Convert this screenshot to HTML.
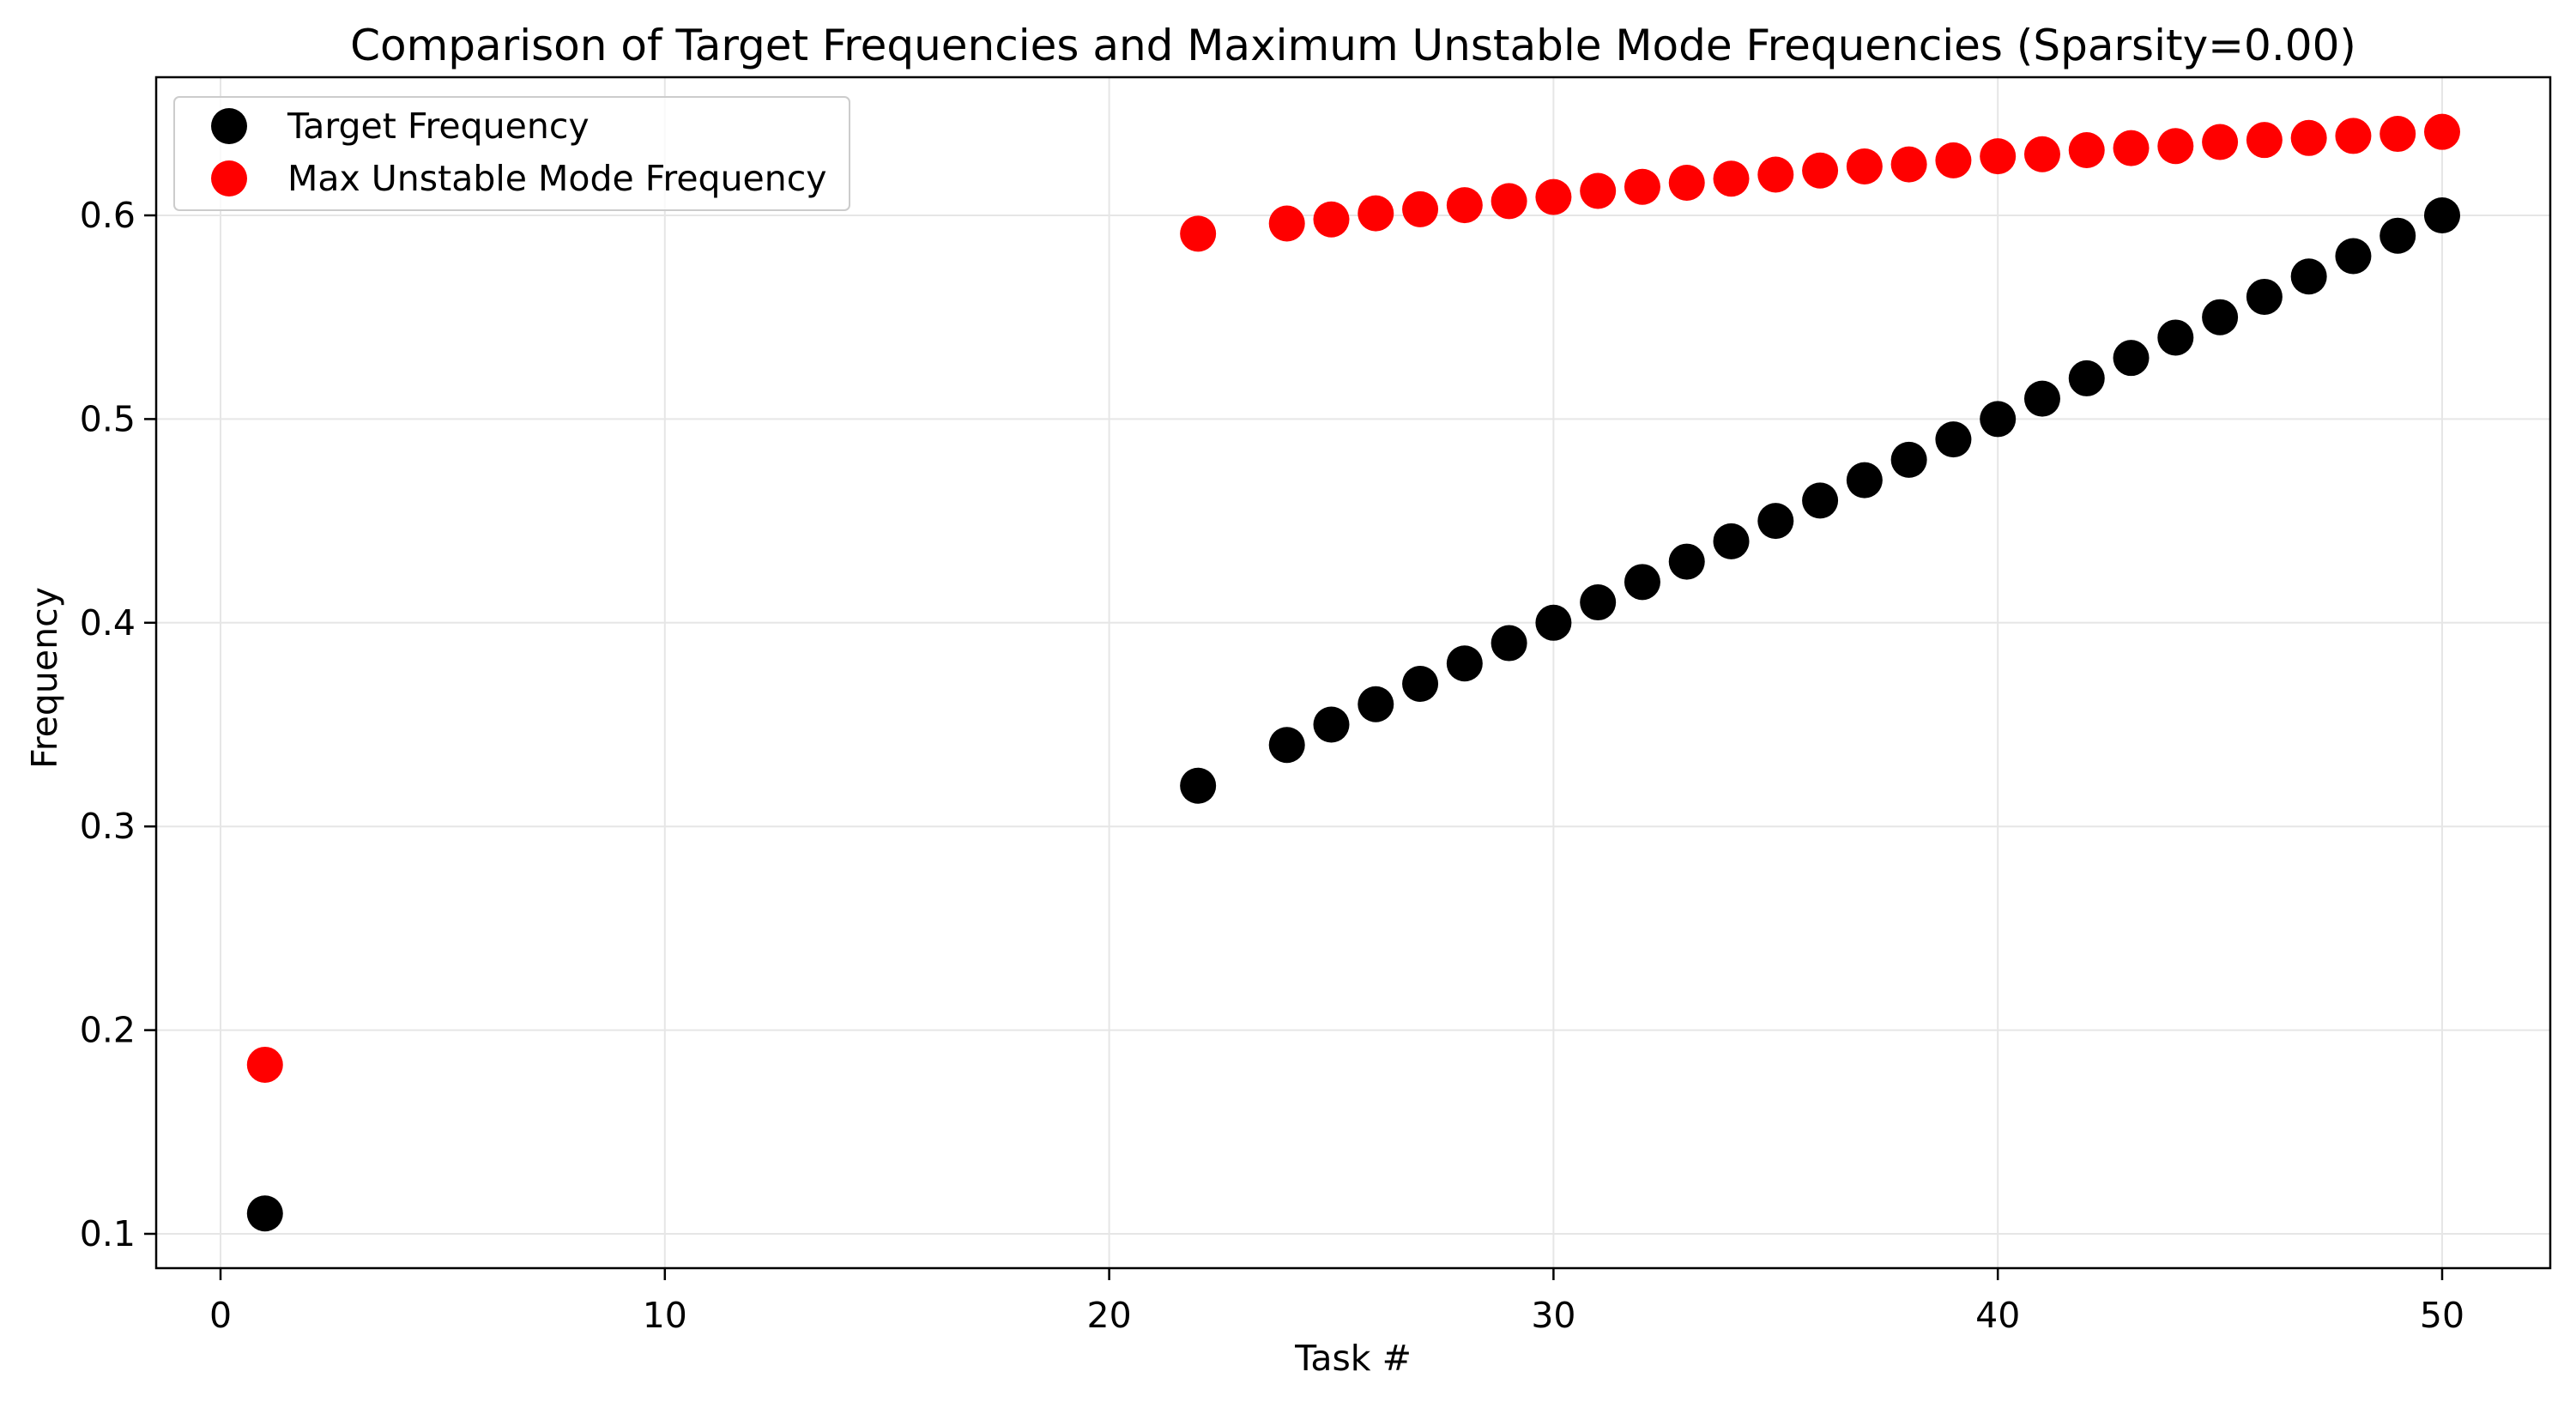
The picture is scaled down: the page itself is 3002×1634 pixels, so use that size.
<!DOCTYPE html>
<html><head><meta charset="utf-8"><style>
body{margin:0;background:#fff}
svg{display:block;font-family:"DejaVu Sans","Liberation Sans",sans-serif}
</style></head><body>
<svg id="chart" width="3002" height="1634" viewBox="0 0 3002 1634">
<rect width="3002" height="1634" fill="#fff"/>
<text x="1577" y="70" font-size="50" text-anchor="middle">Comparison of Target Frequencies and Maximum Unstable Mode Frequencies (Sparsity=0.00)</text>
<g id="grid"></g>
<g id="ticks"></g>
<g id="marks"></g>
<rect x="182" y="90" width="2790" height="1388" fill="none" stroke="#000" stroke-width="2.5"/>
<text x="1577" y="1597" font-size="41" text-anchor="middle">Task #</text>
<text x="66" y="790" font-size="41" text-anchor="middle" transform="rotate(-90 66 790)">Frequency</text>
<g>
<rect x="203" y="113" width="787" height="132" rx="6" fill="#fff" fill-opacity="0.8" stroke="#ccc" stroke-width="2"/>
<g>
<circle cx="267" cy="147" r="21" fill="#000"/>
<text x="335" y="161" font-size="41">Target Frequency</text></g>
<g>
<circle cx="267" cy="208" r="21" fill="#f00"/>
<text x="335" y="222" font-size="41">Max Unstable Mode Frequency</text></g>
</g>
</svg>
<script>
const tasks=[1,22,24,25,26,27,28,29,30,31,32,33,34,35,36,37,38,39,40,41,42,43,44,45,46,47,48,49,50];
const targetFreq=[0.11,0.32,0.34,0.35,0.36,0.37,0.38,0.39,0.40,0.41,0.42,0.43,0.44,0.45,0.46,0.47,0.48,0.49,0.50,0.51,0.52,0.53,0.54,0.55,0.56,0.57,0.58,0.59,0.60];
const maxUnstableFreq=[0.183,0.591,0.596,0.598,0.601,0.603,0.605,0.607,0.609,0.612,0.614,0.616,0.618,0.620,0.622,0.624,0.625,0.627,0.629,0.630,0.632,0.633,0.634,0.636,0.637,0.638,0.639,0.640,0.641];
const xTicks=[0,10,20,30,40,50];
const yTicks=[0.1,0.2,0.3,0.4,0.5,0.6];
const NS="http://www.w3.org/2000/svg";
function xs(v){return 257+(v-0)*(2846-257)/50;}
function ys(v){return 1438-(v-0.1)*(1438-251)/0.5;}
function mk(tag,attrs,parent){const e=document.createElementNS(NS,tag);for(const k in attrs)e.setAttribute(k,attrs[k]);parent.appendChild(e);return e;}
const grid=document.getElementById('grid'),ticks=document.getElementById('ticks'),marks=document.getElementById('marks');
xTicks.forEach(t=>{const x=xs(t);
const g=mk('line',{x1:x,x2:x,y1:90,y2:1478,stroke:'#e6e6e6','stroke-width':2},grid);


mk('line',{x1:x,x2:x,y1:1478,y2:1492,stroke:'#000','stroke-width':2.5},ticks);
const l=mk('text',{x:x,y:1547,'font-size':41,'text-anchor':'middle'},ticks);l.textContent=t;

});
yTicks.forEach(t=>{const y=ys(t);
const g=mk('line',{x1:182,x2:2972,y1:y,y2:y,stroke:'#e6e6e6','stroke-width':2},grid);


mk('line',{x1:168,x2:182,y1:y,y2:y,stroke:'#000','stroke-width':2.5},ticks);
const l=mk('text',{x:158,y:y+14,'font-size':41,'text-anchor':'end'},ticks);l.textContent=t.toFixed(1);

});
tasks.forEach((t,i)=>{
const a=mk('circle',{cx:xs(t),cy:ys(targetFreq[i]),r:21,fill:'#000'},marks);


const b=mk('circle',{cx:xs(t),cy:ys(maxUnstableFreq[i]),r:21,fill:'#f00'},marks);

});
</script>
</body></html>
